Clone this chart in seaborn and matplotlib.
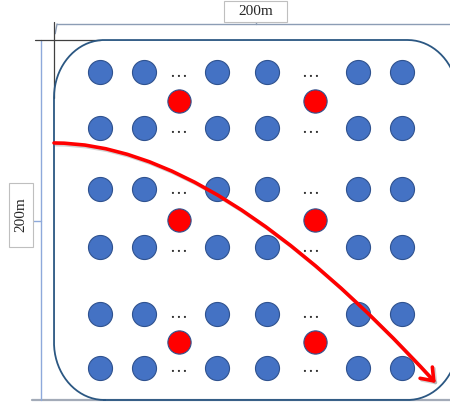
import numpy as np
import pandas as pd
import matplotlib
matplotlib.use("Agg")
import matplotlib.pyplot as plt
import matplotlib.patheffects as pe
from matplotlib.path import Path
from matplotlib.patches import FancyArrowPatch, Rectangle
import seaborn as sns

# field is 200m x 200m, node positions in metres (origin bottom-left)
field_size = 200
node_cols = [23, 44.5, 80.5, 105.5, 150.5, 172.5]
node_rows = [182, 151, 117, 85, 48, 18]
relay_cols = [62, 129]
relay_rows = [166, 100, 32]
gap_cols = [61.5, 127]
size_label = "200m"

nodes = pd.DataFrame([(x, y) for y in node_rows for x in node_cols], columns=["x", "y"])
relays = pd.DataFrame([(x, y) for y in relay_rows for x in relay_cols], columns=["x", "y"])

sns.set_style("white")
fig = plt.figure(figsize=(4.5, 4.04), dpi=100)
ax = fig.add_axes([0, 0, 1, 1])

# rounded field outline (elliptical corners because x/y scales differ)
rx, ry, k = 25, 32, 0.5523
W = H = field_size
verts = [(rx, 0), (W - rx, 0),
         (W - rx + k * rx, 0), (W, ry - k * ry), (W, ry),
         (W, H - ry),
         (W, H - ry + k * ry), (W - rx + k * rx, H), (W - rx, H),
         (rx, H),
         (rx - k * rx, H), (0, H - ry + k * ry), (0, H - ry),
         (0, ry),
         (0, ry - k * ry), (rx - k * rx, 0), (rx, 0)]
codes = [Path.MOVETO, Path.LINETO] + [Path.CURVE4] * 3 + [Path.LINETO] + [Path.CURVE4] * 3 + \
        [Path.LINETO] + [Path.CURVE4] * 3 + [Path.LINETO] + [Path.CURVE4] * 3
outline = Path(verts, codes)
# flatten the curves first, the right side runs past the picture edge and
# clipping bezier control points would bend the corners
pts = np.vstack([seg(np.linspace(0, 1, 40)) for seg, _ in outline.iter_bezier()])
ax.plot(pts[:, 0], pts[:, 1], color="#2B5782", lw=1.3, zorder=3)

# dimension / guide lines
ax.plot([-10.9, 196], [0, 0], color="#A3ABB8", lw=1.6, zorder=2)
ax.plot([1.5, 196], [208.9, 208.9], color="#8C9DB5", lw=1.0, zorder=2)
ax.plot([1.5, 0.6], [208.9, 203.5], color="#8C9DB5", lw=1.0, zorder=2)
ax.plot([-6.4, -6.4], [0, 200], color="#8EA9DB", lw=1.0, zorder=2)
ax.plot([0, 0], [210, 168], color="#404040", lw=0.9, zorder=2)
ax.plot([-9.4, 23], [200, 200], color="#404040", lw=0.9, zorder=2)
ax.plot([100, 100], [208.9, 211], color="#8C9DB5", lw=1.0, zorder=2)
ax.plot([-10.4, -6.4], [99.4, 99.4], color="#8EA9DB", lw=1.0, zorder=2)

# size labels
ax.add_patch(Rectangle((84.2, 210.2), 31.1, 11.5, fc="white", ec="#BFBFBF", lw=0.8, zorder=4))
ax.text(100, 216.0, size_label, ha="center", va="center", fontsize=11,
        family="Liberation Serif", zorder=5)
ax.add_patch(Rectangle((-22.3, 85), 11.9, 35.6, fc="white", ec="#BFBFBF", lw=0.8, zorder=4))
ax.text(-16.3, 102.8, size_label, ha="center", va="center", rotation=90, fontsize=11,
        family="Liberation Serif", zorder=5)

# sensor nodes and relays
sns.scatterplot(data=nodes, x="x", y="y", ax=ax, s=300, color="#4472C4",
                edgecolor="#2F528F", linewidth=0.8, legend=False, zorder=6)
sns.scatterplot(data=relays, x="x", y="y", ax=ax, s=280, color="#FF0000",
                edgecolor="#2F528F", linewidth=0.8, legend=False, zorder=6)

for gx in gap_cols:
    for ry_ in node_rows:
        ax.text(gx, ry_ - 2.6, "\u2026", ha="center", va="baseline", fontsize=13,
                family="Liberation Serif", zorder=6)

# trajectory arrow
traj = Path([(0, 142.8), (80, 142.8), (189, 9.4)], [Path.MOVETO, Path.CURVE3, Path.CURVE3])
arrow = FancyArrowPatch(path=traj, arrowstyle="->,head_length=0.4,head_width=0.3",
                        mutation_scale=20, color="#FF0000", lw=2.6, zorder=7,
                        path_effects=[pe.SimpleLineShadow(offset=(1.2, -1.2), shadow_color="gray", alpha=0.35),
                                      pe.Normal()])
ax.add_patch(arrow)

ax.set_xlim(-26.73, 196.04)
ax.set_ylim(-2.22, 222.22)
ax.axis("off")

fig.savefig("out.png", dpi=100)
